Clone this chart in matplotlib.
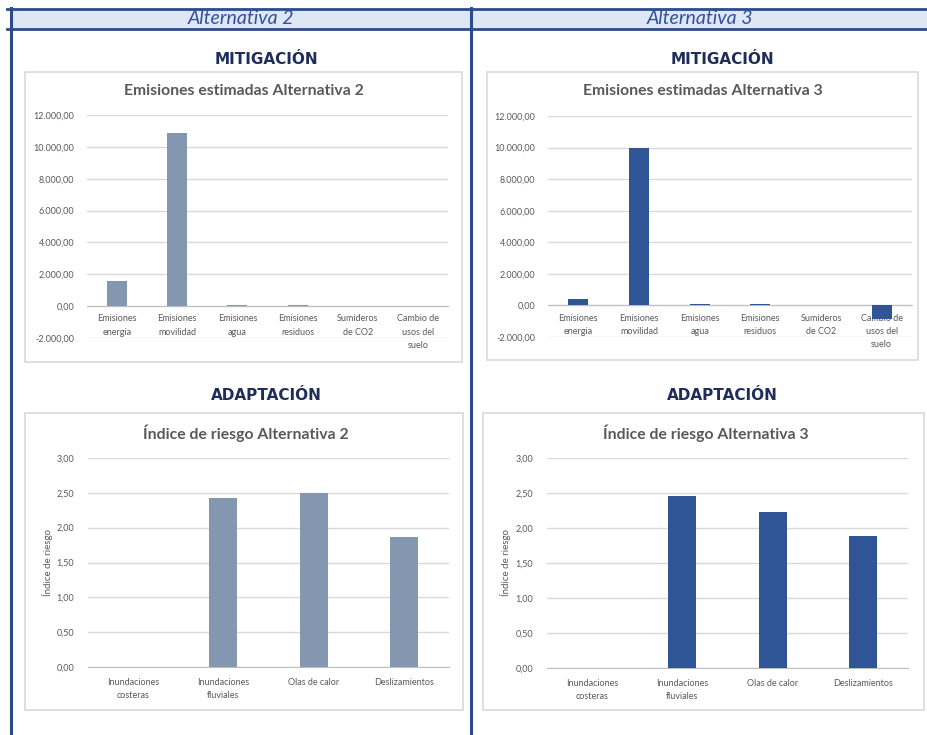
import numpy as np
import matplotlib
matplotlib.use('Agg')
import matplotlib.pyplot as plt
from matplotlib.patches import Rectangle
from matplotlib.lines import Line2D
from matplotlib.ticker import FuncFormatter

# datos
cat_mitig = ['Emisiones\nenergia', 'Emisiones\nmovilidad', 'Emisiones\nagua',
             'Emisiones\nresiduos', 'Sumideros\nde CO2', 'Cambio de\nusos del\nsuelo']
emis_alt2 = [1550, 10900, 100, 100, 0, 0]
emis_alt3 = [430, 10000, 100, 100, 0, -850]

cat_riesgo = ['Inundaciones\ncosteras', 'Inundaciones\nfluviales', 'Olas de calor', 'Deslizamientos']
riesgo_alt2 = [0, 2.43, 2.50, 1.87]
riesgo_alt3 = [0, 2.46, 2.23, 1.88]

W, H = 928, 735
fig = plt.figure(figsize=(W/100, H/100), dpi=100)
fig.patch.set_facecolor('white')

AZUL = '#2f4a8a'
GRIS = '#595959'
GRID = '#d9d9d9'
col2 = '#8497b0'
col3 = '#2f5597'
FONT = 'Lato'


def fmt_es(v, pos=None):
    s = '{:,.2f}'.format(v)
    s = s.replace(',', 'X').replace('.', ',').replace('X', '.')
    return s


def add_ax(l, t, r, b):
    return fig.add_axes([l/W, 1-b/H, (r-l)/W, (b-t)/H])


def caja(l, t, r, b):
    fig.patches.append(Rectangle((l/W, 1-b/H), (r-l)/W, (b-t)/H, transform=fig.transFigure,
                                 facecolor='white', edgecolor=GRID, lw=1.2, zorder=-2))


def ftext(x, y, s, **kw):
    fig.text(x/W, 1-y/H, s, ha='center', va='center', **kw)


def estilo(ax):
    ax.set_facecolor('none')
    for sp in ['top', 'right', 'left']:
        ax.spines[sp].set_visible(False)
    ax.yaxis.grid(True, color=GRID, lw=1)
    ax.set_axisbelow(True)
    ax.tick_params(axis='both', length=0, colors=GRIS)
    ax.yaxis.set_major_formatter(FuncFormatter(fmt_es))
    for lab in ax.get_yticklabels():
        lab.set_fontfamily(FONT)


# cabeceras
fig.patches.append(Rectangle((12/W, 1-29/H), (928-12)/W, 20/H, transform=fig.transFigure,
                             facecolor='#dde8f4', edgecolor='none', zorder=-3))
for yy in [9, 29]:
    fig.lines.append(Line2D([7/W, 1], [1-yy/H, 1-yy/H], transform=fig.transFigure, color=AZUL, lw=2, zorder=-1))
for xx in [11, 471]:
    fig.lines.append(Line2D([xx/W, xx/W], [0, 1-8/H], transform=fig.transFigure, color=AZUL, lw=2.2, zorder=-1))

ftext(241, 19, 'Alternativa 2', color='#34509c', fontsize=14, style='italic', family=FONT)
ftext(700, 19, 'Alternativa 3', color='#34509c', fontsize=14, style='italic', family=FONT)

for cx in [266, 722]:
    ftext(cx, 60, 'MITIGACIÓN', color='#1f2d5a', fontsize=11, weight='heavy', family='DejaVu Sans')
    ftext(cx, 396, 'ADAPTACIÓN', color='#1f2d5a', fontsize=11, weight='heavy', family='DejaVu Sans')

# graficos de mitigacion
paneles_m = [
    ((25, 72, 462, 362), (87, 115, 448, 338), emis_alt2, col2, 'Emisiones estimadas Alternativa 2'),
    ((487, 72, 918, 360), (548, 116, 912, 337), emis_alt3, col3, 'Emisiones estimadas Alternativa 3'),
]
for box, pa, vals, c, tit in paneles_m:
    caja(*box)
    ftext((box[0]+box[2])/2, 91, tit, color=GRIS, fontsize=11.3, weight='bold', family=FONT)
    ax = add_ax(*pa)
    x = np.arange(len(cat_mitig))
    ax.bar(x, vals, width=0.33, color=c, zorder=3)
    ax.set_xlim(-0.5, len(cat_mitig)-0.5)
    ax.set_ylim(-2000, 12000)
    ax.set_yticks(np.arange(-2000, 12001, 2000))
    estilo(ax)
    ax.spines['bottom'].set_position(('data', 0))
    ax.spines['bottom'].set_color('#bfbfbf')
    ax.set_xticks(x)
    ax.set_xticklabels(cat_mitig, fontsize=6.5, color=GRIS, family=FONT, linespacing=1.6)
    ax.tick_params(axis='x', pad=6)
    ax.tick_params(axis='y', labelsize=6.5, pad=9)

# graficos de adaptacion
paneles_a = [
    ((25, 413, 463, 710), (88, 458, 449, 667), riesgo_alt2, col2, 'Índice de riesgo Alternativa 2', 48),
    ((483, 413, 924, 710), (547, 458, 908, 668), riesgo_alt3, col3, 'Índice de riesgo Alternativa 3', 506),
]
for box, pa, vals, c, tit, ylx in paneles_a:
    caja(*box)
    ftext((box[0]+box[2])/2 + 2, 433, tit, color=GRIS, fontsize=11.3, weight='bold', family=FONT)
    ax = add_ax(*pa)
    x = np.arange(len(cat_riesgo))
    ax.bar(x, vals, width=0.31, color=c, zorder=3)
    ax.set_xlim(-0.5, len(cat_riesgo)-0.5)
    ax.set_ylim(0, 3)
    ax.set_yticks(np.arange(0, 3.01, 0.5))
    estilo(ax)
    ax.spines['bottom'].set_color('#bfbfbf')
    ax.set_xticks(x)
    ax.set_xticklabels(cat_riesgo, fontsize=6.5, color=GRIS, family=FONT, linespacing=1.6)
    ax.tick_params(axis='x', pad=8)
    ax.tick_params(axis='y', labelsize=6.5, pad=10)
    ftext(ylx, 562, 'Índice de riesgo', color=GRIS, fontsize=7, rotation=90, family=FONT)

fig.savefig('out.png', dpi=100)
